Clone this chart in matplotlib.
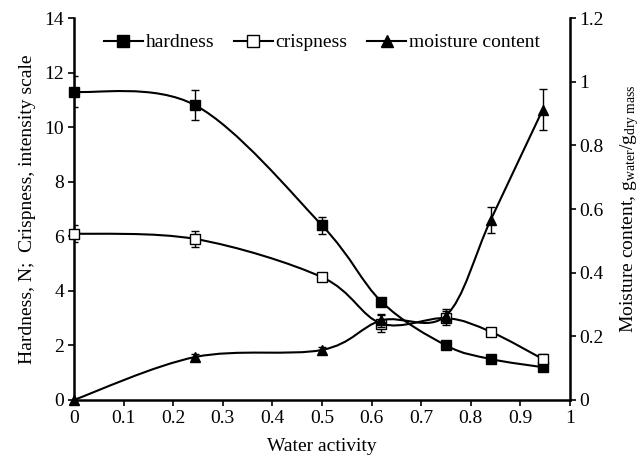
import numpy as np
import matplotlib
matplotlib.use('Agg')
import matplotlib.pyplot as plt
from matplotlib.path import Path
from matplotlib.patches import PathPatch
from matplotlib.lines import Line2D

plt.rcParams['font.family'] = ['Liberation Serif', 'DejaVu Serif']
plt.rcParams['mathtext.fontset'] = 'custom'
plt.rcParams['mathtext.rm'] = 'Liberation Serif'
plt.rcParams['mathtext.it'] = 'Liberation Serif:italic'

aw = [0.0, 0.245, 0.5, 0.62, 0.75, 0.84, 0.945]
hardness = [11.3, 10.8, 6.4, 3.6, 2.0, 1.5, 1.2]
hardness_err = [0.57, 0.55, 0.3, 0.1, 0.1, 0.1, 0.1]
crispness = [6.1, 5.9, 4.5, 2.8, 3.0, 2.5, 1.5]
crispness_err = [0.3, 0.3, 0.15, 0.3, 0.25, 0.1, 0.2]
moisture = [0.0, 0.135, 0.157, 0.25, 0.265, 0.565, 0.912]
moisture_err = [0.0, 0.01, 0.01, 0.02, 0.02, 0.04, 0.065]


def smooth_path(x, y):
    # Catmull-Rom style smoothing as Bezier segments
    x = np.asarray(x, float)
    y = np.asarray(y, float)
    n = len(x)
    verts = [(x[0], y[0])]
    codes = [Path.MOVETO]
    for i in range(n - 1):
        i0 = max(i - 1, 0)
        i3 = min(i + 2, n - 1)
        c1 = (x[i] + (x[i + 1] - x[i0]) / 6, y[i] + (y[i + 1] - y[i0]) / 6)
        c2 = (x[i + 1] - (x[i3] - x[i]) / 6, y[i + 1] - (y[i3] - y[i]) / 6)
        verts += [c1, c2, (x[i + 1], y[i + 1])]
        codes += [Path.CURVE4] * 3
    return Path(verts, codes)


fig = plt.figure(figsize=(6.41, 4.65), dpi=100)
ax = fig.add_axes([0.1154, 0.14, 0.7738, 0.821])
ax2 = ax.twinx()

fs = 14
for a, yv, ye, mk, fc in [(ax, hardness, hardness_err, 's', 'black'),
                          (ax, crispness, crispness_err, 's', 'white'),
                          (ax2, moisture, moisture_err, '^', 'black')]:
    a.add_patch(PathPatch(smooth_path(aw, yv), facecolor='none', edgecolor='black', lw=1.5, zorder=2))
    a.errorbar(aw, yv, yerr=ye, fmt='none', ecolor='black', elinewidth=1, capsize=3, capthick=1, zorder=3)
    a.plot(aw, yv, linestyle='none', marker=mk, markersize=7, markerfacecolor=fc,
           markeredgecolor='black', markeredgewidth=1, zorder=4, clip_on=False)

ax.set_xlim(0, 1)
ax.set_ylim(0, 14)
ax2.set_ylim(0, 1.2)
ax.set_xticks(np.arange(0, 1.01, 0.1))
ax.set_xticklabels(['0', '0.1', '0.2', '0.3', '0.4', '0.5', '0.6', '0.7', '0.8', '0.9', '1'])
ax.set_yticks(range(0, 15, 2))
ax2.set_yticks([0, 0.2, 0.4, 0.6, 0.8, 1.0, 1.2])
ax2.set_yticklabels(['0', '0.2', '0.4', '0.6', '0.8', '1', '1.2'])

for a in (ax, ax2):
    a.tick_params(direction='out', length=4, width=1.2, labelsize=fs, colors='black', pad=3)
    for s in a.spines.values():
        s.set_linewidth(1.8)
    a.spines['top'].set_visible(False)
ax.spines['right'].set_visible(False)
ax2.spines['left'].set_visible(False)
ax2.spines['bottom'].set_visible(False)

ax.set_xlabel('Water activity', fontsize=fs, labelpad=8)
ax.set_ylabel('Hardness, N;  Crispness, intensity scale', fontsize=fs, labelpad=6)
ax2.set_ylabel(r'Moisture content, g$_{\mathrm{water}}$/g$_{\mathrm{dry\ mass}}$', fontsize=fs, labelpad=10)

handles = [
    Line2D([], [], color='black', lw=1.5, marker='s', markersize=8, markerfacecolor='black', markeredgecolor='black'),
    Line2D([], [], color='black', lw=1.5, marker='s', markersize=8, markerfacecolor='white', markeredgecolor='black'),
    Line2D([], [], color='black', lw=1.5, marker='^', markersize=8, markerfacecolor='black', markeredgecolor='black'),
]
ax2.legend(handles, ['hardness', 'crispness', 'moisture content'], loc='upper center',
           bbox_to_anchor=(0.5, 1.005), ncol=3, frameon=False, fontsize=fs,
           handlelength=2.0, handletextpad=0.15, columnspacing=1.0)

fig.savefig('out.png', dpi=100)
